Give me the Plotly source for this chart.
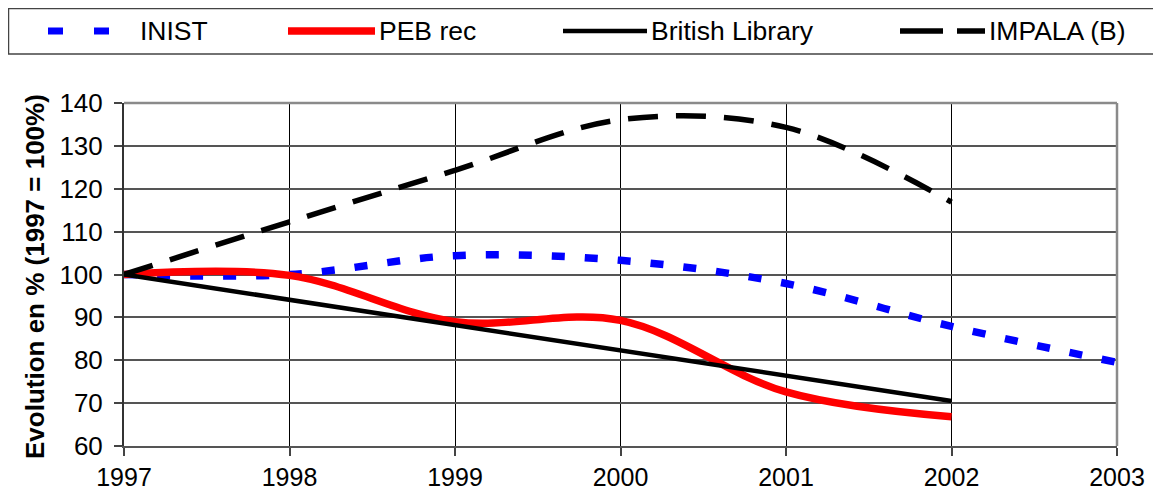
import plotly.graph_objects as go

years = [1997, 1998, 1999, 2000, 2001, 2002, 2003]
inist = [100, 100, 104.4, 103.3, 97.9, 87.9, 79.5]
peb_years = [1997, 1998, 1999, 2000, 2001, 2002]
peb_rec = [100, 99.8, 89.0, 89.3, 72.6, 66.8]
bl_years = [1997, 1998, 1999, 2000, 2001, 2002]
british_library = [100, 94.1, 88.2, 82.3, 76.4, 70.5]
impala_years = [1997, 1998, 1999, 2000, 2001, 2002]
impala = [100, 112.3, 124.3, 136.1, 134.3, 116.9]

y_ticks = [60, 70, 80, 90, 100, 110, 120, 130, 140]
x_ticks = [1997, 1998, 1999, 2000, 2001, 2002, 2003]
legend_names = ["INIST", "PEB rec", "British Library", "IMPALA (B)"]

FONT = "Liberation Sans, Arial, sans-serif"
OFF = 8  # page body margin
W, H = 1161 - OFF, 495 - OFF
L, R, T, B = 124 - OFF, 1117 - OFF, 103 - OFF, 446 - OFF

fig = go.Figure()
fig.add_trace(go.Scatter(x=years, y=inist, mode="lines", name=legend_names[0],
                         line=dict(color="#0000FF", width=7.5, dash="13px,20px", shape="spline")))
fig.add_trace(go.Scatter(x=peb_years, y=peb_rec, mode="lines", name=legend_names[1],
                         line=dict(color="#FF0000", width=7.5, shape="spline")))
fig.add_trace(go.Scatter(x=bl_years, y=british_library, mode="lines", name=legend_names[2],
                         line=dict(color="#000000", width=4.5)))
fig.add_trace(go.Scatter(x=impala_years, y=impala, mode="lines", name=legend_names[3],
                         line=dict(color="#000000", width=5.5, dash="30px,18px", shape="spline")))

def px(xp):
    # xp given in page pixels
    return (xp - OFF - L) / (R - L)

def py(yp):
    return (B - (yp - OFF)) / (B - T)

shapes = []
shapes.append(dict(type="line", xref="paper", yref="paper", x0=0, x1=1, y0=1, y1=1,
                   line=dict(color="#8a8a8a", width=2.5)))
shapes.append(dict(type="line", xref="paper", yref="paper", x0=1, x1=1, y0=0, y1=1,
                   line=dict(color="#8a8a8a", width=2.5)))
shapes.append(dict(type="rect", xref="paper", yref="paper", x0=px(8.5), x1=px(1157), y0=py(54), y1=py(8.5),
                   line=dict(color="#444444", width=1.5), fillcolor="white", layer="above"))
ly = py(31)
legend_items = [
    (48, 111, dict(color="#0000FF", width=7, dash="15px,31px"), 138),
    (288, 375, dict(color="#FF0000", width=7.5), 377),
    (563, 647, dict(color="#000000", width=4.5), 649),
    (900, 985, dict(color="#000000", width=5.5, dash="43px,14px"), 987),
]
annotations = []
for (x0, x1, ln, tx), name in zip(legend_items, legend_names):
    shapes.append(dict(type="line", xref="paper", yref="paper", x0=px(x0), x1=px(x1), y0=ly, y1=ly,
                       line=ln, layer="above"))
    annotations.append(dict(text=name, xref="paper", yref="paper", x=px(tx), y=ly,
                            xanchor="left", yanchor="middle", showarrow=False,
                            font=dict(family=FONT, size=26.5, color="black")))

annotations.append(dict(text="<b>Evolution en % (1997 = 100%)</b>", xref="paper", yref="paper",
                        x=px(35), y=py(277), xanchor="center", yanchor="middle", textangle=-90,
                        showarrow=False, font=dict(family=FONT, size=26, color="black")))

fig.update_layout(
    width=W, height=H,
    margin=dict(l=L, r=W - R, t=T, b=H - B, autoexpand=False),
    paper_bgcolor="white", plot_bgcolor="white",
    showlegend=False,
    font=dict(family=FONT, size=26, color="black"),
    shapes=shapes, annotations=annotations,
    xaxis=dict(range=[1997, 2003], tickvals=x_ticks, ticktext=[str(v) for v in x_ticks],
               showgrid=True, gridcolor="#000000", gridwidth=1,
               showline=True, linecolor="#555555", linewidth=2,
               ticks="outside", ticklen=8, tickcolor="#444444", tickwidth=1.5,
               ticklabelstandoff=0,
               zeroline=False, tickfont=dict(family=FONT, size=25, color="black")),
    yaxis=dict(range=[60, 140], tickvals=y_ticks,
               showgrid=True, gridcolor="#555555", gridwidth=1.5,
               showline=True, linecolor="#333333", linewidth=2,
               ticks="outside", ticklen=8, tickcolor="#444444", tickwidth=1.5,
               ticklabelstandoff=6,
               zeroline=False, tickfont=dict(family=FONT, size=26, color="black")),
)

fig.write_html("out.html")
